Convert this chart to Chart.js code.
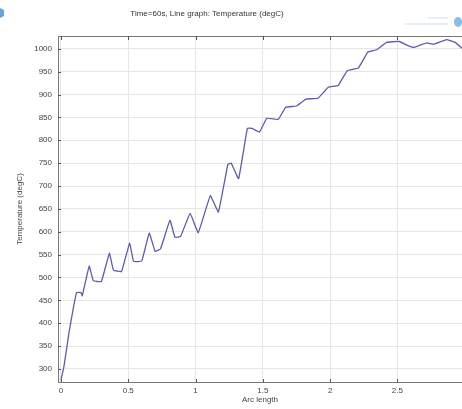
<!DOCTYPE html>
<html>
<head>
<meta charset="utf-8">
<script src="https://cdn.jsdelivr.net/npm/chart.js@4"></script>
<style>
  html, body { margin: 0; padding: 0; background: #fff; }
  #wrap { width: 462px; height: 409px; }
</style>
</head>
<body>
<div id="wrap"><canvas id="c" width="462" height="409"></canvas></div>
<script>
// Temperature along the arc at t = 60 s
const arcLength = [0, 0.022, 0.06, 0.09, 0.116, 0.149, 0.158, 0.21, 0.24, 0.30, 0.36, 0.39, 0.45, 0.51, 0.54, 0.60,
  0.656, 0.70, 0.74, 0.81, 0.847, 0.889, 0.96, 1.02, 1.11, 1.17, 1.24, 1.265, 1.32, 1.385, 1.42, 1.475,
  1.53, 1.615, 1.67, 1.75, 1.82, 1.91, 1.986, 2.06, 2.127, 2.21, 2.28, 2.345, 2.42, 2.514, 2.57, 2.62,
  2.66, 2.72, 2.77, 2.865, 2.93, 2.98];
const temperature = [276, 305, 380, 430, 467, 467, 460, 525, 493, 491, 553, 516, 513, 575, 535, 536,
  597, 557, 563, 625, 588, 590, 640, 598, 679, 643, 747, 750, 716, 826, 826, 818,
  848, 846, 872, 875, 890, 892, 916, 920, 952, 958, 993, 998, 1014, 1016, 1008, 1003,
  1007, 1013, 1010, 1020, 1014, 1001];
const xTicks = [0, 0.5, 1, 1.5, 2, 2.5];
const yTicks = [300, 350, 400, 450, 500, 550, 600, 650, 700, 750, 800, 850, 900, 950, 1000];

const titleText = 'Time=60s, Line graph: Temperature (degC)';
const xTitle = 'Arc length';
const yTitle = 'Temperature (degC)';

const FONT = '"Liberation Sans", Arial, sans-serif';
const points = arcLength.map((x, i) => ({ x, y: temperature[i] }));

// Frame, inner tick marks, titles and corner badges
const decorations = {
  id: 'decorations',
  afterDraw(chart) {
    const { ctx, chartArea: a, scales } = chart;
    ctx.save();
    // plot frame
    ctx.strokeStyle = '#777';
    ctx.lineWidth = 1;
    ctx.strokeRect(a.left + 0.5, a.top + 0.5, a.right - a.left, a.bottom - a.top);
    // inward tick marks
    ctx.strokeStyle = '#555';
    ctx.beginPath();
    xTicks.forEach(v => {
      const px = Math.round(scales.x.getPixelForValue(v)) + 0.5;
      ctx.moveTo(px, a.bottom); ctx.lineTo(px, a.bottom - 3);
      ctx.moveTo(px, a.top); ctx.lineTo(px, a.top + 4);
    });
    yTicks.forEach(v => {
      const py = Math.round(scales.y.getPixelForValue(v)) + 0.5;
      ctx.moveTo(a.left, py); ctx.lineTo(a.left + 3, py);
    });
    ctx.stroke();

    // titles
    ctx.fillStyle = '#333';
    ctx.font = '8px ' + FONT;
    ctx.textAlign = 'center';
    ctx.textBaseline = 'middle';
    ctx.fillText(titleText, 207, 14);
    ctx.fillStyle = '#444';
    ctx.fillText(xTitle, (a.left + a.right) / 2, 400);
    ctx.translate(20, (a.top + a.bottom) / 2);
    ctx.rotate(-Math.PI / 2);
    ctx.fillText(yTitle, 0, 0);
    ctx.restore();

    // small badges in the top corners
    ctx.save();
    ctx.fillStyle = 'rgba(70,140,210,0.8)';
    ctx.beginPath();
    ctx.moveTo(0, 8); ctx.lineTo(4, 10); ctx.lineTo(4, 16); ctx.lineTo(0, 18);
    ctx.closePath();
    ctx.fill();
    ctx.fillStyle = 'rgba(90,160,220,0.7)';
    ctx.beginPath();
    ctx.ellipse(458, 22, 4, 5, 0, 0, Math.PI * 2);
    ctx.fill();
    ctx.fillStyle = 'rgba(170,200,230,0.3)';
    ctx.fillRect(428, 17, 20, 2);
    ctx.fillRect(405, 23, 43, 2);
    ctx.restore();
  }
};

new Chart(document.getElementById('c'), {
  type: 'line',
  data: {
    datasets: [{
      data: points,
      borderColor: '#5c5cb2',
      borderWidth: 1.3,
      pointRadius: 0,
      tension: 0.08,
      fill: false
    }]
  },
  options: {
    responsive: false,
    animation: false,
    layout: { padding: { top: 36, left: 0, right: 0, bottom: 0 } },
    plugins: { legend: { display: false }, tooltip: { enabled: false } },
    scales: {
      x: {
        type: 'linear',
        min: -0.022,
        max: 2.98,
        afterBuildTicks(s) { s.ticks = xTicks.map(v => ({ value: v })); },
        afterFit(s) { s.height = 27; },
        grid: { color: '#e6e6e6', drawTicks: false },
        border: { color: '#777' },
        ticks: {
          padding: 4,
          color: '#444',
          font: { size: 8, family: FONT },
          maxRotation: 0,
          callback: v => String(v)
        }
      },
      y: {
        type: 'linear',
        min: 271.5,
        max: 1028,
        afterBuildTicks(s) { s.ticks = yTicks.map(v => ({ value: v })); },
        afterFit(s) { s.width = 58; },
        grid: { color: '#e6e6e6', drawTicks: false },
        border: { color: '#777' },
        ticks: {
          padding: 6,
          color: '#444',
          font: { size: 8, family: FONT },
          callback: v => String(v)
        }
      }
    }
  },
  plugins: [decorations]
});
</script>
</body>
</html>
